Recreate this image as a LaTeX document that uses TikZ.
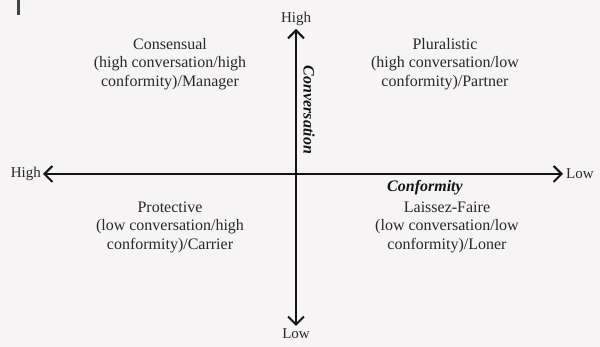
\documentclass[tikz,border=0pt]{standalone}
\usepackage{fontspec}
\setmainfont{Liberation Serif}
\usepackage{xcolor}
\usetikzlibrary{arrows.meta}
\definecolor{paper}{RGB}{246, 244, 245}
\definecolor{ink}{RGB}{20, 20, 20}
\definecolor{textgray}{RGB}{40, 40, 40}

\begin{document}
\begin{tikzpicture}[x=1pt, y=1pt,
    axis/.style={line width=2pt, ink, {Straight Barb[length=8pt,width=16pt,line width=2pt]}-{Straight Barb[length=8pt,width=16pt,line width=2pt]}},
    quadrant/.style={align=center, text=textgray, font=\fontsize{16}{18.5}\selectfont},
    tick/.style={text=textgray, font=\fontsize{15}{16}\selectfont},
    axisname/.style={text=ink, font=\fontsize{16}{17}\selectfont\bfseries\itshape}]
    % Background
        \fill[paper] (0,0) rectangle (600,347);
        \useasboundingbox (0,0) rectangle (600,347);
        \draw[line width=3pt, ink!80] (18,347) -- (18,332);

        % Axis end points
        \coordinate (west) at (43,173);
        \coordinate (east) at (563,173);
        \coordinate (north) at (296,318);
        \coordinate (south) at (296,21);

        % Axes
        \draw[axis] (west) -- (east);
        \draw[axis] (south) -- (north);

        % Ends of the axes
        \node[tick, anchor=east, inner sep=2pt] (highx) at (west) {High};
        \node[tick, anchor=west, inner sep=3pt] (lowx) at (east) {Low};
        \node[tick, anchor=south, inner sep=3pt] (highy) at (north) {High};
        \node[tick, anchor=north, inner sep=2pt] (lowy) at (south) {Low};

        % Axis names
        \node[axisname, rotate=-90] (conv) at (309,237) {Conversation};
        \node[axisname] (conf) at (425,159) {Conformity};

        % Quadrants
        \node[quadrant] (consensual) at (170,283) {Consensual\\(high conversation/high\\conformity)/Manager};
        \node[quadrant] (pluralistic) at (445,283) {Pluralistic\\(high conversation/low\\conformity)/Partner};
        \node[quadrant] (protective) at (170,120) {Protective\\(low conversation/high\\conformity)/Carrier};
        \node[quadrant] (laissez) at (447,120) {Laissez-Faire\\(low conversation/low\\conformity)/Loner};
    \end{tikzpicture}
\end{document}
